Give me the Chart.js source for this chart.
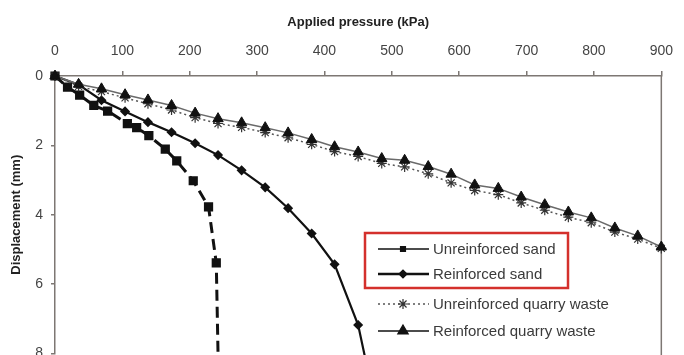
<!DOCTYPE html>
<html>
<head>
<meta charset="utf-8">
<script src="https://cdn.jsdelivr.net/npm/chart.js@4.4.0/dist/chart.umd.min.js"></script>
<style>
  html, body { margin: 0; padding: 0; background: #fff; overflow: hidden; }
  #wrap { width: 684px; height: 355px; }
</style>
</head>
<body>
<div id="wrap"><canvas id="chart" width="684" height="355"></canvas></div>
<script>
// values (pressure in kPa, displacement in mm)
const qwPressure = [0, 35, 69, 104, 138, 173, 208, 242, 277, 312, 346, 381, 415, 450, 485, 519, 554, 588, 623, 658, 692, 727, 762, 796, 831, 865, 900];
const reinforcedQuarryWaste = [0, 0.24, 0.37, 0.54, 0.69, 0.85, 1.07, 1.23, 1.35, 1.49, 1.64, 1.83, 2.04, 2.19, 2.38, 2.43, 2.61, 2.83, 3.14, 3.24, 3.49, 3.71, 3.92, 4.09, 4.38, 4.61, 4.93];
const unreinforcedQuarryWaste = [0, 0.3, 0.45, 0.63, 0.8, 0.98, 1.2, 1.37, 1.48, 1.63, 1.78, 1.97, 2.18, 2.32, 2.52, 2.62, 2.82, 3.08, 3.3, 3.42, 3.66, 3.87, 4.07, 4.23, 4.5, 4.7, 4.97];
const rsPressure = [0, 35, 69, 104, 138, 173, 208, 242, 277, 312, 346, 381, 415, 450, 470];
const reinforcedSand = [0, 0.25, 0.7, 1.02, 1.33, 1.62, 1.94, 2.28, 2.72, 3.21, 3.81, 4.54, 5.43, 7.18, 9.0];
const usPressure = [0, 18.6, 36.6, 57.6, 78.1, 107.4, 121.2, 139.3, 163.7, 180.7, 205.2, 227.9, 239.4, 243];
const unreinforcedSand = [0, 0.32, 0.55, 0.85, 1.01, 1.37, 1.49, 1.72, 2.11, 2.45, 3.02, 3.77, 5.39, 9.0];
const seriesNames = ["Unreinforced sand", "Reinforced sand", "Unreinforced quarry waste", "Reinforced quarry waste"];

const INK = "#111", AXIS = "#7d7773", TXT = "#3a3a3a";
const FONT = "'Liberation Sans', Arial, sans-serif";

const pts = (xs, ys) => xs.map((x, i) => ({ x, y: ys[i] }));

const datasets = [
  { label: seriesNames[3], data: pts(qwPressure, reinforcedQuarryWaste), borderColor: "#6a6a6a", borderWidth: 1.5,
    pointStyle: "triangle", pointRadius: 6, pointBackgroundColor: INK, pointBorderColor: INK, pointBorderWidth: 1, order: 1 },
  { label: seriesNames[2], data: pts(qwPressure, unreinforcedQuarryWaste), borderColor: "#555", borderWidth: 1.5, borderDash: [2, 3],
    pointStyle: "star", pointRadius: 5, pointBorderColor: "#333", pointBorderWidth: 1.2, order: 2 },
  { label: seriesNames[1], data: pts(rsPressure, reinforcedSand), borderColor: INK, borderWidth: 2.2,
    pointStyle: "rectRot", pointRadius: 3.5, pointBackgroundColor: INK, pointBorderColor: INK, order: 3 },
  { label: seriesNames[0], data: pts(usPressure, unreinforcedSand), borderColor: INK, borderWidth: 3, borderDash: [11, 6],
    pointStyle: "rect", pointRadius: 4.4, pointBackgroundColor: INK, pointBorderColor: INK, order: 4 },
];
datasets.forEach((d) => Object.assign(d, { showLine: true, fill: false, tension: 0, clip: false, backgroundColor: "transparent" }));

// right frame line + legend drawn on the canvas
const frameAndLegend = {
  id: "frameAndLegend",
  beforeDatasetsDraw(chart) {
    const { ctx, chartArea: a } = chart;
    ctx.save();
    ctx.strokeStyle = AXIS; ctx.lineWidth = 1.5;
    ctx.beginPath(); ctx.moveTo(a.right, a.top); ctx.lineTo(a.right, a.bottom + 5); ctx.stroke();
    ctx.restore();
  },
  afterDraw(chart) {
    const { ctx } = chart;
    const items = [
      { y: 249, lw: 1.5, dash: [], style: "rect", r: 3.5 },
      { y: 274, lw: 2.6, dash: [], style: "rectRot", r: 4 },
      { y: 304, lw: 1.5, dash: [2, 3], style: "star", r: 5 },
      { y: 331, lw: 1.5, dash: [], style: "triangle", r: 6 },
    ];
    ctx.save();
    items.forEach((it, i) => {
      ctx.strokeStyle = i === 2 ? "#555" : INK;
      ctx.lineWidth = it.lw; ctx.setLineDash(it.dash);
      ctx.beginPath(); ctx.moveTo(378, it.y); ctx.lineTo(429, it.y); ctx.stroke();
      ctx.setLineDash([]);
      ctx.fillStyle = INK; ctx.strokeStyle = i === 2 ? "#333" : INK;
      ctx.lineWidth = 1.2;
      Chart.helpers.drawPoint(ctx, { pointStyle: it.style, radius: it.r, rotation: 0, borderWidth: 1.2 }, 403, it.y);
      ctx.fillStyle = TXT;
      ctx.font = "15px " + FONT;
      ctx.textBaseline = "middle";
      ctx.fillText(seriesNames[i], 433, it.y + 1);
    });
    ctx.strokeStyle = "#d4302c"; ctx.lineWidth = 2.5;
    ctx.strokeRect(365, 233, 203, 55);
    ctx.restore();
  },
};

new Chart(document.getElementById("chart"), {
  type: "scatter",
  data: { datasets },
  plugins: [frameAndLegend],
  options: {
    responsive: false, maintainAspectRatio: false, animation: false, devicePixelRatio: 1,
    layout: { autoPadding: false, padding: { top: 0, right: 15, bottom: 1.5, left: 0 } },
    plugins: { legend: { display: false }, tooltip: { enabled: false } },
    scales: {
      x: {
        type: "linear", position: "top", min: 0, max: 900,
        ticks: { stepSize: 100, color: "#444", font: { size: 14, family: FONT }, padding: 11 },
        grid: { drawOnChartArea: false, drawTicks: true, tickLength: 5, color: AXIS, lineWidth: 1.5 },
        border: { color: AXIS, width: 1.5 },
        title: { display: true, text: "Applied pressure (kPa)", color: "#222", font: { size: 13, weight: "bold", family: FONT }, padding: { top: 15, bottom: 0 } },
        afterFit: (s) => { s.height = 76; },
      },
      y: {
        type: "linear", position: "left", reverse: true, min: 0, max: 8,
        ticks: { stepSize: 2, color: "#444", font: { size: 14, family: FONT, lineHeight: 0.2 }, padding: 8 },
        grid: { drawOnChartArea: false, drawTicks: true, tickLength: 4, color: AXIS, lineWidth: 1.5 },
        border: { color: AXIS, width: 1.5 },
        title: { display: true, text: "Displacement (mm)", color: "#222", font: { size: 13, weight: "bold", family: FONT }, padding: { top: 9, bottom: 0 } },
        afterFit: (s) => { s.width = 55; s.paddingTop = 0; s.paddingBottom = 0; },
      },
    },
  },
});
</script>
</body>
</html>
